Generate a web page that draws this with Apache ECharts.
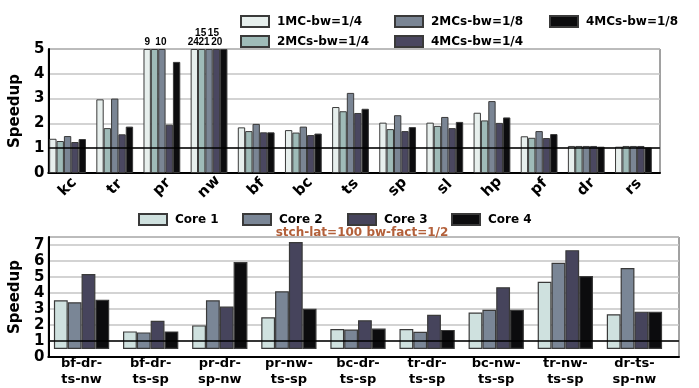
<!DOCTYPE html>
<html>
<head>
<meta charset="utf-8">
<script src="https://cdn.jsdelivr.net/npm/echarts@6/dist/echarts.min.js"></script>
<style>
  html, body { margin: 0; padding: 0; background: #fff; }
  #chart { width: 699px; height: 388px; }
</style>
</head>
<body>
<div id="chart"></div>
<script>
// top panel: speedup per benchmark, clipped at 5
const benchmarks = ["kc", "tr", "pr", "nw", "bf", "bc", "ts", "sp", "sl", "hp", "pf", "dr", "rs"];
const mcNames = ["1MC-bw=1/4", "2MCs-bw=1/4", "2MCs-bw=1/8", "4MCs-bw=1/4", "4MCs-bw=1/8"];
const mc1bw4 = [1.38, 2.97, 5, 5, 1.84, 1.73, 2.66, 2.03, 2.03, 2.43, 1.48, 1.09, 1.06];
const mc2bw4 = [1.29, 1.81, 5, 5, 1.69, 1.63, 2.49, 1.77, 1.90, 2.12, 1.42, 1.09, 1.09];
const mc2bw8 = [1.49, 3.00, 5, 5, 1.98, 1.87, 3.23, 2.33, 2.26, 2.90, 1.69, 1.09, 1.09];
const mc4bw4 = [1.25, 1.56, 1.95, 5, 1.64, 1.53, 2.42, 1.69, 1.81, 2.02, 1.41, 1.09, 1.09];
const mc4bw8 = [1.37, 1.87, 4.48, 5, 1.64, 1.59, 2.59, 1.85, 2.06, 2.24, 1.57, 1.06, 1.03];
// values printed above clipped bars
const overLabels = [
  ["", "", "9", "24", "", "", "", "", "", "", "", "", ""],
  ["", "", "", "15", "", "", "", "", "", "", "", "", ""],
  ["", "", "10", "21", "", "", "", "", "", "", "", "", ""],
  ["", "", "", "15", "", "", "", "", "", "", "", "", ""],
  ["", "", "", "20", "", "", "", "", "", "", "", "", ""]
];

// bottom panel: per-core speedup for mixes
const mixes = ["bf-dr-\nts-nw", "bf-dr-\nts-sp", "pr-dr-\nsp-nw", "pr-nw-\nts-sp", "bc-dr-\nts-sp",
  "tr-dr-\nts-sp", "bc-nw-\nts-sp", "tr-nw-\nts-sp", "dr-ts-\nsp-nw"];
const coreNames = ["Core 1", "Core 2", "Core 3", "Core 4"];
const core1 = [3.26, 1.18, 1.58, 2.12, 1.34, 1.34, 2.44, 4.50, 2.33];
const core2 = [3.13, 1.11, 3.26, 3.87, 1.30, 1.16, 2.63, 5.78, 5.42];
const core3 = [5.02, 1.89, 2.84, 7.16, 1.93, 2.29, 4.14, 6.62, 2.50];
const core4 = [3.30, 1.18, 5.82, 2.69, 1.37, 1.28, 2.63, 4.89, 2.50];
const subtitle = "stch-lat=100 bw-fact=1/2";

const mcColors = ["#e7efed", "#9fbbb8", "#7a8594", "#4a4760", "#0c0c0e"];
const coreColors = ["#cfe1df", "#7a8696", "#46445c", "#0c0c0e"];
const font = "DejaVu Sans";

// label offsets so the stacked numbers on nw don't collide
const labelOffsets = [
  [[0, 0], [-1, 0]],
  [[-1, -9]],
  [[-1, 0], [-5, 0]],
  [[-3, -9]],
  [[-7, 0]]
];

const chart = echarts.init(document.getElementById("chart"), null, { renderer: "canvas" });

const frameYAxis = (max, gridIndex) => ({
  type: "value", gridIndex, min: 0, max, interval: 1,
  axisLine: { show: true, lineStyle: { color: "#000", width: 2 } },
  axisTick: { show: false },
  axisLabel: { color: "#000", fontFamily: font, fontWeight: "bold", fontSize: 15, margin: 4, showMaxLabel: max % 1 === 0 },
  splitLine: { lineStyle: { color: "#c4c4c4", width: 1.5 } },
  name: "Speedup", nameLocation: "middle", nameGap: 14,
  nameTextStyle: { color: "#000", fontFamily: font, fontWeight: "bold", fontSize: 15 }
});
const hiddenYAxis = (max, gridIndex) => ({
  type: "value", gridIndex, min: 0, max, show: false, splitLine: { show: false }
});
const frameXAxis = (gridIndex) => ({
  type: "value", gridIndex, min: 0, max: 1,
  axisLine: { show: true, lineStyle: { color: "#000", width: 2 } },
  axisTick: { show: false }, axisLabel: { show: false }, splitLine: { show: false }
});
const refLine = (idx) => ({
  type: "line", xAxisIndex: idx, yAxisIndex: idx, data: [[0, null]], showSymbol: false,
  silent: true, z: 10,
  markLine: {
    silent: true, symbol: ["none", "none"], label: { show: false },
    lineStyle: { color: "#000", width: 1.5, type: "solid" },
    data: [{ yAxis: 1 }]
  }
});

const mcData = [mc1bw4, mc2bw4, mc2bw8, mc4bw4, mc4bw8];
const coreData = [core1, core2, core3, core4];

const mcSeries = mcNames.map((name, s) => {
  let k = 0;
  return {
    name, type: "bar", xAxisIndex: 1, yAxisIndex: 1,
    barGap: "0%", barCategoryGap: "22%",
    itemStyle: { color: mcColors[s], borderColor: "#3a3a3a", borderWidth: 1 },
    data: mcData[s].map((v, i) => {
      const t = overLabels[s][i];
      if (!t) return v;
      const off = labelOffsets[s][k++];
      return {
        value: v,
        label: {
          show: true, position: "top", distance: 2, formatter: t, offset: off,
          color: "#000", fontFamily: "Liberation Sans", fontWeight: "bold", fontSize: 10
        }
      };
    })
  };
});

const coreSeries = coreNames.map((name, s) => ({
  name, type: "bar", xAxisIndex: 3, yAxisIndex: 3,
  barGap: "0%", barCategoryGap: "20%",
  itemStyle: { color: coreColors[s], borderColor: "#3a3a3a", borderWidth: 1.2 },
  data: coreData[s]
}));

const legendItem = (name, left, top) => ({
  data: [{ name, icon: "rect" }], left, top, itemWidth: 28, itemHeight: 11, selectedMode: false,
  textStyle: { color: "#000", fontFamily: font, fontWeight: "bold", fontSize: 12, padding: [0, 0, 0, 3] }
});

chart.setOption({
  animation: false,
  backgroundColor: "#fff",
  title: {
    text: subtitle, left: 357, top: 222, textAlign: "center",
    textStyle: { color: "#b3603a", fontFamily: font, fontWeight: "bold", fontSize: 12 }
  },
  legend: [
    legendItem(mcNames[0], 235, 10),
    legendItem(mcNames[1], 235, 30),
    legendItem(mcNames[2], 389, 10),
    legendItem(mcNames[3], 389, 30),
    legendItem(mcNames[4], 544, 10),
    legendItem(coreNames[0], 133, 208),
    legendItem(coreNames[1], 237, 208),
    legendItem(coreNames[2], 342, 208),
    legendItem(coreNames[3], 446, 208)
  ],
  grid: [
    { left: 39, right: 39, top: 49, height: 124, show: true, borderColor: "#444", borderWidth: 1 },
    { left: 44, right: 42, top: 49, height: 124 },
    { left: 36, right: 20, top: 237, height: 120, show: true, borderColor: "#444", borderWidth: 1 },
    { left: 47, right: 30, top: 237, height: 120 }
  ],
  xAxis: [
    frameXAxis(0),
    {
      type: "category", gridIndex: 1, data: benchmarks,
      axisLine: { show: false }, axisTick: { show: false },
      axisLabel: {
        rotate: 45, align: "center", verticalAlign: "middle", margin: 14, interval: 0,
        color: "#000", fontFamily: font, fontWeight: "bold", fontSize: 15
      }
    },
    frameXAxis(2),
    {
      type: "category", gridIndex: 3, data: mixes,
      axisLine: { show: false }, axisTick: { show: false },
      axisLabel: {
        margin: 7, interval: 0, lineHeight: 16,
        color: "#000", fontFamily: font, fontWeight: "bold", fontSize: 13
      }
    }
  ],
  yAxis: [
    frameYAxis(5, 0),
    hiddenYAxis(5, 1),
    frameYAxis(7.5, 2),
    hiddenYAxis(7.5, 3)
  ],
  series: [refLine(0), ...mcSeries, refLine(2), ...coreSeries]
});

window.addEventListener("resize", () => chart.resize());
</script>
</body>
</html>
